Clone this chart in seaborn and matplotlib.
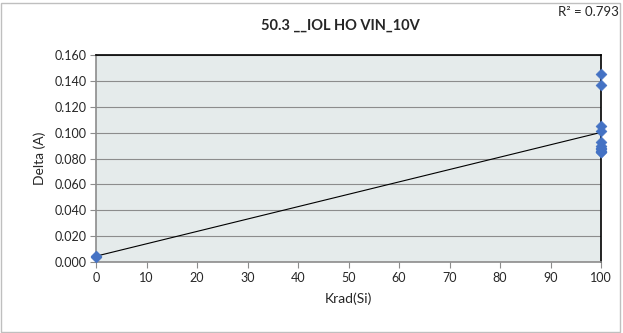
import numpy as np
import pandas as pd
import seaborn as sns
import matplotlib.pyplot as plt
from matplotlib.patches import Rectangle

krad = [0, 0, 100, 100, 100, 100, 100, 100, 100, 100, 100, 100, 100]
delta = [0.004, 0.005, 0.145, 0.137, 0.105, 0.101, 0.093, 0.090, 0.088, 0.087, 0.086, 0.085, 0.085]
x_ticks = [0, 10, 20, 30, 40, 50, 60, 70, 80, 90, 100]
y_ticks = [0.0, 0.02, 0.04, 0.06, 0.08, 0.10, 0.12, 0.14, 0.16]
title = "50.3 __IOL HO VIN_10V"
r2_text = "R² = 0.793"

df = pd.DataFrame({"Krad(Si)": krad, "Delta (A)": delta})

sns.set_theme(style="white")
plt.rcParams['font.family'] = ['Lato', 'DejaVu Sans']

W, H = 623, 333
fig = plt.figure(figsize=(W / 100, H / 100), dpi=100)
ax = fig.add_axes([96 / W, 1 - 262 / H, (601 - 96) / W, (262 - 55) / H])
ax.set_facecolor("#e5ebeb")

# trendline
slope, intercept = np.polyfit(krad, delta, 1)
xs = np.array([0, 100])
sns.lineplot(x=xs, y=slope * xs + intercept, ax=ax, color="black", linewidth=0.8, zorder=3)
sns.scatterplot(data=df, x="Krad(Si)", y="Delta (A)", ax=ax, marker="D", s=30,
                color="#4472c4", edgecolor="#4472c4", linewidth=0.5, zorder=4, clip_on=False)

ax.set_xlim(0, 100)
ax.set_ylim(0, 0.16)
ax.set_xticks(x_ticks)
ax.set_yticks(y_ticks)
ax.set_xticklabels([str(t) for t in x_ticks], fontsize=9)
ax.set_yticklabels([f"{t:.3f}" for t in y_ticks], fontsize=9)
ax.grid(axis="y", color="#8c8c8c", linewidth=0.8)
ax.set_axisbelow(True)
ax.tick_params(axis="both", direction="out", length=4, width=0.8, color="#8c8c8c", pad=3,
               bottom=True, left=True)
ax.set_xlabel("Krad(Si)", fontsize=10, labelpad=6)
ax.set_ylabel("Delta (A)", fontsize=10, labelpad=6)
for side in ["left", "bottom"]:
    ax.spines[side].set_color("#8c8c8c")
    ax.spines[side].set_linewidth(1.2)
for side in ["top", "right"]:
    ax.spines[side].set_color("black")
    ax.spines[side].set_linewidth(1.2)

fig.text(340 / W, 1 - 26 / H, title, ha="center", va="center", fontsize=10.5, fontweight="bold")
fig.text(619 / W, 1 - 12 / H, r2_text, ha="right", va="center", fontsize=9.5)

fig.patches.append(Rectangle((1 / W, 1 / H), (W - 4) / W, (H - 4) / H, transform=fig.transFigure,
                             fill=False, edgecolor="#bfbfbf", linewidth=1))

fig.savefig("out.png", dpi=100)
